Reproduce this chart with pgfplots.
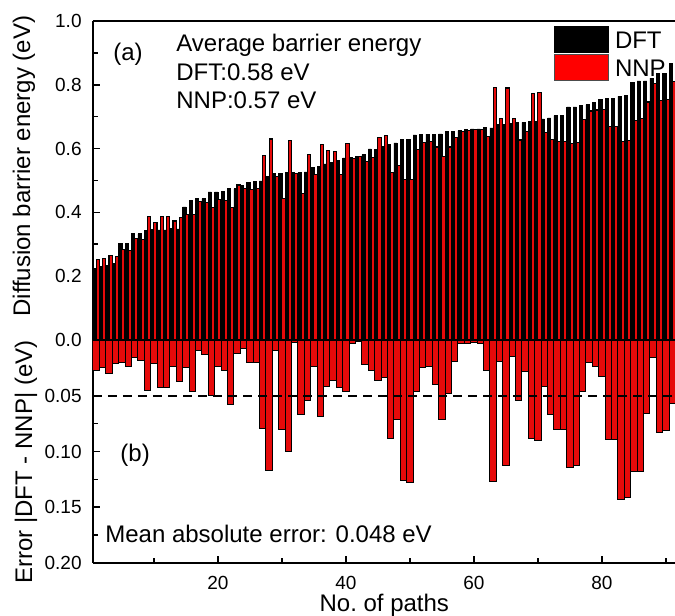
\documentclass[border=0pt]{standalone}
\usepackage{fontspec}
\setmainfont{Liberation Sans}
\usepackage{pgfplots}
\usepackage{pgfplotstable}
\pgfplotsset{compat=1.18}
\pgfplotstableread{
n dft nnp err
1 0.225 0.252 0.027
2 0.230 0.255 0.025
3 0.235 0.265 0.030
4 0.240 0.261 0.021
5 0.304 0.284 0.020
6 0.304 0.280 0.024
7 0.333 0.317 0.016
8 0.333 0.315 0.018
9 0.343 0.388 0.045
10 0.346 0.367 0.021
11 0.345 0.388 0.043
12 0.345 0.388 0.043
13 0.349 0.373 0.024
14 0.348 0.385 0.037
15 0.417 0.392 0.025
16 0.438 0.392 0.046
17 0.443 0.434 0.009
18 0.443 0.430 0.013
19 0.464 0.414 0.050
20 0.464 0.440 0.024
21 0.465 0.438 0.027
22 0.474 0.416 0.058
23 0.474 0.486 0.012
24 0.484 0.476 0.008
25 0.493 0.473 0.020
26 0.496 0.476 0.020
27 0.499 0.578 0.079
28 0.513 0.630 0.117
29 0.521 0.512 0.009
30 0.523 0.443 0.080
31 0.525 0.625 0.100
32 0.525 0.523 0.002
33 0.525 0.458 0.067
34 0.527 0.581 0.054
35 0.542 0.518 0.024
36 0.544 0.613 0.069
37 0.552 0.594 0.042
38 0.556 0.592 0.036
39 0.562 0.519 0.043
40 0.571 0.617 0.046
41 0.573 0.570 0.003
42 0.575 0.576 0.001
43 0.581 0.559 0.022
44 0.599 0.572 0.027
45 0.598 0.634 0.036
46 0.607 0.641 0.034
47 0.614 0.526 0.088
48 0.618 0.547 0.071
49 0.630 0.504 0.126
50 0.630 0.502 0.128
51 0.643 0.597 0.046
52 0.645 0.620 0.025
53 0.645 0.621 0.024
54 0.645 0.605 0.040
55 0.646 0.575 0.071
56 0.653 0.605 0.048
57 0.653 0.634 0.019
58 0.656 0.653 0.003
59 0.659 0.656 0.003
60 0.662 0.660 0.002
61 0.662 0.659 0.003
62 0.666 0.639 0.027
63 0.665 0.792 0.127
64 0.676 0.695 0.019
65 0.677 0.790 0.113
66 0.678 0.693 0.015
67 0.681 0.627 0.054
68 0.682 0.654 0.028
69 0.685 0.773 0.088
70 0.686 0.776 0.090
71 0.693 0.651 0.042
72 0.696 0.629 0.067
73 0.703 0.623 0.080
74 0.703 0.623 0.080
75 0.731 0.617 0.114
76 0.731 0.618 0.113
77 0.736 0.690 0.046
78 0.738 0.718 0.020
79 0.745 0.721 0.024
80 0.755 0.722 0.033
81 0.757 0.668 0.089
82 0.758 0.669 0.089
83 0.764 0.621 0.143
84 0.766 0.625 0.141
85 0.807 0.689 0.118
86 0.812 0.694 0.118
87 0.812 0.746 0.066
88 0.821 0.805 0.016
89 0.835 0.752 0.083
90 0.836 0.755 0.081
91 0.867 0.810 0.057
}\datatable
\definecolor{barred}{RGB}{230,10,10}
\begin{document}
\begin{tikzpicture}
\pgfplotsset{
  common/.style={
    scale only axis,
    width=291.3pt,
    xmin=0.5, xmax=91.5,
    tick align=inside,
    major tick length=3.5pt,
    minor tick length=2.5pt,
    every tick/.style={black, line width=0.8pt},
    axis line style={line width=0.8pt},
    every tick label/.append style={inner sep=0pt, font=\fontsize{9.5}{11}\selectfont},
    yticklabel style={xshift=-5.5pt},
    label style={font=\fontsize{12}{14}\selectfont},
    clip mode=individual,
    /pgf/number format/assume math mode=true,
  }
}
\begin{axis}[common, name=top,
  height=159.5pt,
  ymin=0, ymax=1.0,
  axis x line=box, axis y line*=left,
  xtick=\empty,
  ytick={0,0.2,0.4,0.6,0.8,1.0},
  yticklabels={0.0,0.2,0.4,0.6,0.8,1.0},
  minor y tick num=1,
  ylabel={Diffusion barrier energy (eV)},
  every axis y label/.style={at={(rel axis cs:0,0.545)}, rotate=90, anchor=center, yshift=34.5pt, font=\fontsize{12}{14}\selectfont},
  legend style={at={(rel axis cs:0.7913,0.9843)}, anchor=north west, draw=none, fill=none, inner sep=0pt, row sep=0.5pt, font=\fontsize{12}{14}\selectfont, nodes={inner sep=0pt}, /tikz/every odd column/.append style={column sep=3pt}},
  legend cell align=left,
]
\addplot[ybar, bar width=0.5, bar shift=-0.25, fill=black, draw=black, line width=0.3pt,
  legend image code/.code={\draw[fill=black, draw=black, line width=0.3pt] (0pt,-5.4pt) rectangle (27pt,7.6pt);}]
  table[x=n, y=dft]{\datatable};
\addlegendentry{DFT}
\addplot[ybar, bar width=0.5, bar shift=0.25, fill=barred, draw=black, line width=0.55pt,
  legend image code/.code={\draw[fill=red, draw=black!70, line width=0.3pt] (0pt,-5.4pt) rectangle (27pt,7.6pt);}]
  table[x=n, y=nnp]{\datatable};
\addlegendentry{NNP}
\node[anchor=base west, inner sep=0pt, font=\fontsize{12}{14}\selectfont] at (axis cs:3.62,0.875) {(a)};
\node[anchor=base west, inner sep=0pt, font=\fontsize{12}{14}\selectfont] at (axis cs:13.46,0.904) {Average barrier energy};
\node[anchor=base west, inner sep=0pt, font=\fontsize{12}{14}\selectfont] at (axis cs:13.46,0.815) {DFT:0.58 eV};
\node[anchor=base west, inner sep=0pt, font=\fontsize{12}{14}\selectfont] at (axis cs:13.46,0.726) {NNP:0.57 eV};
\end{axis}
\begin{axis}[common, name=bot,
  at={(top.south west)}, anchor=north west,
  height=111.5pt,
  ymin=0, ymax=0.2, y dir=reverse,
  axis x line*=bottom, axis y line*=left,
  xtick={20,40,60,80}, xticklabels={20,40,60,80},
  minor xtick={10,30,50,70,90},
  xticklabel style={yshift=-6.5pt},
  ytick={0,0.05,0.1,0.15,0.2},
  yticklabels={,0.05,0.10,0.15,0.20},
  minor y tick num=1,
  xlabel={No.\ of paths},
  every axis x label/.style={at={(rel axis cs:0.5,0)}, anchor=north, yshift=-15.5pt, inner sep=0pt, font=\fontsize{12}{14}\selectfont},
  ylabel={Error |DFT - NNP| (eV)},
  every axis y label/.style={at={(rel axis cs:0,0.453)}, rotate=90, anchor=center, yshift=33.5pt, font=\fontsize{12}{14}\selectfont},
]
\addplot[ybar, bar width=1, bar shift=0, fill=barred, draw=black, line width=0.5pt]
  table[x=n, y=err]{\datatable};
\addplot[black, line width=1pt, dash pattern=on 4.5pt off 3pt] coordinates {(0.5,0.05) (91.5,0.05)};
\node[anchor=base west, inner sep=0pt, font=\fontsize{12}{14}\selectfont] at (axis cs:4.72,0.109) {(b)};
\node[anchor=base west, inner sep=0pt, font=\fontsize{12}{14}\selectfont] at (axis cs:2.37,0.1818) {Mean absolute error: 0.048 eV};
\end{axis}
\pgfresetboundingbox
\path[use as bounding box] (top.north west) ++(-46.5pt,10.5pt) rectangle ++(337.5pt,-308pt);
\end{tikzpicture}
\end{document}
